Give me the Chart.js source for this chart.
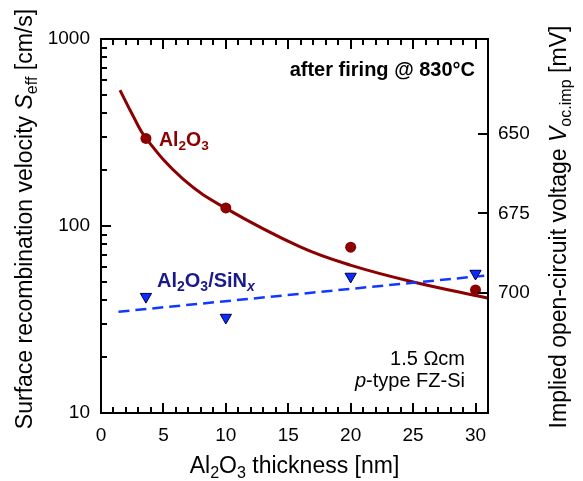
<!DOCTYPE html>
<html>
<head>
<meta charset="utf-8">
<script src="https://cdn.jsdelivr.net/npm/chart.js@4.4.1/dist/chart.umd.min.js"></script>
<style>
  html, body { margin: 0; padding: 0; background: #fff; }
  canvas { display: block; }
</style>
</head>
<body>
<canvas id="seffChart" width="583" height="481"></canvas>
<script>
// Al2O3 layer thickness [nm] of the measured samples
const thickness = [3.6, 10, 20, 30];
// S_eff after firing [cm/s]
const seffAl2O3 = [294, 125, 77, 45.5];
const seffStack = [41.9, 32.4, 53.7, 55.7];

// fitted trend through the Al2O3 points
const fitX = [1.52, 2.46, 3.61, 6.58, 9.94, 15.96, 19.97, 25.02, 30.95];
const fitY = [533, 401, 294, 178, 125, 77.3, 61.8, 50.2, 41.2];
// trend line of the Al2O3/SiNx stacks
const stackFitX = [1.4, 30.7];
const stackFitY = [34.8, 54.2];

// axis ticks
const xTicks = [0, 5, 10, 15, 20, 25, 30];
const yTicks = [10, 100, 1000];
const vocTicks = [650, 675, 700];

const FONT = "'Liberation Sans', Arial, sans-serif";
const RED = '#8b0000';
const BLUE = '#1238ff';
const NAVY = '#1a1a8a';

const pts = (xs, ys) => xs.map((v, i) => ({ x: v, y: ys[i] }));

// draw text made of pieces (subscripts, italics) along the baseline
function fontFor(p, size) {
  const s = p.sub ? size * 0.7 : size;
  return `${p.it ? 'italic ' : ''}${p.b ? 'bold ' : ''}${s}px ${FONT}`;
}
function richWidth(ctx, parts, size) {
  let w = 0;
  for (const p of parts) {
    ctx.font = fontFor(p, size);
    w += ctx.measureText(p.t).width;
  }
  return w;
}
function drawRich(ctx, parts, x, y, size, align) {
  const w = richWidth(ctx, parts, size);
  let cx = align === 'center' ? x - w / 2 : align === 'right' ? x - w : x;
  ctx.textAlign = 'left';
  ctx.textBaseline = 'alphabetic';
  for (const p of parts) {
    ctx.font = fontFor(p, size);
    ctx.fillText(p.t, cx, p.sub ? y + size * 0.22 : y);
    cx += ctx.measureText(p.t).width;
  }
}

const frame = {
  id: 'frame',
  afterDatasetsDraw(chart) {
    const { ctx, chartArea: a } = chart;
    const { x, y, y2 } = chart.scales;
    ctx.save();
    ctx.strokeStyle = '#000';
    ctx.lineWidth = 2;
    const line = (x1, y1, x2, y2_) => {
      ctx.beginPath(); ctx.moveTo(x1, y1); ctx.lineTo(x2, y2_); ctx.stroke();
    };

    // thickness ticks, bottom and top
    for (let v = 1; v <= 30; v++) {
      const px = Math.round(x.getPixelForValue(v));
      const len = v % 5 === 0 ? 10 : 6;
      line(px, a.bottom, px, a.bottom - len);
      line(px, a.top, px, a.top + len);
    }
    // log ticks on the left
    for (let d = 10; d < 1000; d *= 10) {
      for (let m = 1; m <= 10; m++) {
        const py = Math.round(y.getPixelForValue(d * m));
        line(a.left, py, a.left + (m === 1 || m === 10 ? 10 : 6), py);
      }
    }
    // voltage ticks on the right
    for (const v of vocTicks) {
      const py = Math.round(y2.getPixelForValue(v));
      line(a.right, py, a.right - 10, py);
    }
    ctx.strokeRect(a.left, a.top, a.right - a.left, a.bottom - a.top);

    // annotations inside the plot
    ctx.fillStyle = '#000';
    drawRich(ctx, [{ t: 'after firing @ 830°C', b: true }], a.right - 13, a.top + 37, 20, 'right');
    drawRich(ctx, [{ t: '1.5 Ωcm' }], a.right - 23, a.top + 326, 20, 'right');
    drawRich(ctx, [{ t: 'p', it: true }, { t: '-type FZ-Si' }], a.right - 23, a.top + 348, 20, 'right');

    ctx.fillStyle = RED;
    drawRich(ctx, [{ t: 'Al', b: true }, { t: '2', b: true, sub: true }, { t: 'O', b: true }, { t: '3', b: true, sub: true }],
      a.left + 58, a.top + 107, 19.5, 'left');
    ctx.fillStyle = NAVY;
    drawRich(ctx, [{ t: 'Al', b: true }, { t: '2', b: true, sub: true }, { t: 'O', b: true }, { t: '3', b: true, sub: true },
      { t: '/SiN', b: true }, { t: 'x', b: true, it: true, sub: true }], a.left + 56, a.top + 248, 20, 'left');

    // axis titles
    ctx.fillStyle = '#000';
    drawRich(ctx, [{ t: 'Al' }, { t: '2', sub: true }, { t: 'O' }, { t: '3', sub: true }, { t: ' thickness [nm]' }],
      (a.left + a.right) / 2, 473, 23, 'center');

    ctx.save();
    ctx.translate(32, (a.top + a.bottom) / 2 - 7);
    ctx.rotate(-Math.PI / 2);
    drawRich(ctx, [{ t: 'Surface recombination velocity ' }, { t: 'S', it: true }, { t: 'eff', sub: true }, { t: ' [cm/s]' }],
      0, 0, 23, 'center');
    ctx.restore();

    ctx.save();
    ctx.translate(566, (a.top + a.bottom) / 2 + 1);
    ctx.rotate(-Math.PI / 2);
    drawRich(ctx, [{ t: 'Implied open-circuit voltage ' }, { t: 'V', it: true }, { t: 'oc.imp', sub: true }, { t: ' [mV]' }],
      0, 0, 23, 'center');
    ctx.restore();

    ctx.restore();
  }
};

const tickFont = { family: FONT, size: 19 };

new Chart(document.getElementById('seffChart').getContext('2d'), {
  type: 'scatter',
  data: {
    datasets: [
      {
        label: 'Al2O3/SiNx',
        data: pts(thickness, seffStack),
        pointStyle: 'triangle',
        rotation: 180,
        pointRadius: 6.5,
        backgroundColor: '#0a2cff',
        borderColor: '#000040',
        borderWidth: 1,
        order: 1
      },
      {
        label: 'Al2O3',
        data: pts(thickness, seffAl2O3),
        pointRadius: 5.5,
        backgroundColor: RED,
        borderColor: RED,
        borderWidth: 0,
        order: 2
      },
      {
        label: 'Al2O3/SiNx fit',
        data: pts(stackFitX, stackFitY),
        showLine: true,
        pointRadius: 0,
        borderColor: BLUE,
        borderWidth: 2.5,
        borderDash: [11, 6],
        order: 3
      },
      {
        label: 'Al2O3 fit',
        data: pts(fitX, fitY),
        showLine: true,
        pointRadius: 0,
        borderColor: RED,
        borderWidth: 3,
        tension: 0.4,
        order: 4
      }
    ]
  },
  options: {
    responsive: false,
    animation: false,
    layout: { padding: { top: 39, left: 0, right: 0, bottom: 0 } },
    plugins: { legend: { display: false }, tooltip: { enabled: false } },
    scales: {
      x: {
        type: 'linear',
        position: 'bottom',
        min: 0,
        max: 31,
        grid: { display: false, drawTicks: false },
        border: { display: false },
        ticks: { font: tickFont, color: '#000', padding: 11, maxRotation: 0 },
        afterBuildTicks: s => { s.ticks = xTicks.map(v => ({ value: v })); },
        afterFit: s => { s.height = 68; }
      },
      y: {
        type: 'logarithmic',
        position: 'left',
        min: 10,
        max: 1000,
        grid: { display: false, drawTicks: false },
        border: { display: false },
        ticks: { font: tickFont, color: '#000', padding: 11, callback: v => String(v) },
        afterBuildTicks: s => { s.ticks = yTicks.map(v => ({ value: v })); },
        afterFit: s => { s.width = 101; }
      },
      y2: {
        type: 'linear',
        position: 'right',
        reverse: true,
        min: 620.13,
        max: 737.74,
        grid: { display: false, drawTicks: false },
        border: { display: false },
        ticks: { font: tickFont, color: '#000', padding: 10 },
        afterBuildTicks: s => { s.ticks = vocTicks.map(v => ({ value: v })); },
        afterFit: s => { s.width = 95; }
      }
    }
  },
  plugins: [frame]
});
</script>
</body>
</html>
